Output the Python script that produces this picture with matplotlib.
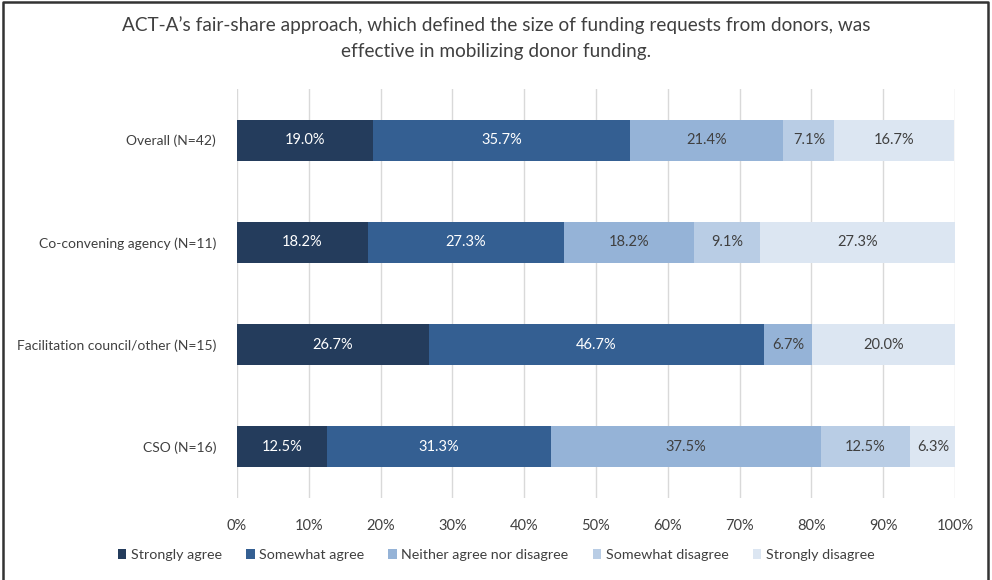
import numpy as np
import matplotlib.pyplot as plt
from matplotlib.lines import Line2D

# datos
grupos = ['Overall (N=42)', 'Co-convening agency (N=11)',
          'Facilitation council/other (N=15)', 'CSO (N=16)']
respuestas = ['Strongly agree', 'Somewhat agree', 'Neither agree nor disagree',
              'Somewhat disagree', 'Strongly disagree']
strongly_agree = [19.0, 18.2, 26.7, 12.5]
somewhat_agree = [35.7, 27.3, 46.7, 31.3]
neither = [21.4, 18.2, 6.7, 37.5]
somewhat_disagree = [7.1, 9.1, 0.0, 12.5]
strongly_disagree = [16.7, 27.3, 20.0, 6.3]

colores = ['#243c5c', '#345f92', '#95b3d7', '#b9cde5', '#dce6f2']
color_texto = ['white', 'white', '#404040', '#404040', '#404040']

plt.rcParams['font.family'] = ['Lato', 'DejaVu Sans']

fig = plt.figure(figsize=(9.92, 5.8), dpi=100)
ax = fig.add_axes([0.2389, 0.1414, 0.7238, 0.7052])

series = [strongly_agree, somewhat_agree, neither, somewhat_disagree, strongly_disagree]
y = np.arange(len(grupos))
izq = np.zeros(len(grupos))
for k, vals in enumerate(series):
    vals = np.array(vals)
    ax.barh(y, vals, left=izq, height=0.4, color=colores[k], label=respuestas[k], zorder=3)
    for i, v in enumerate(vals):
        if v > 0:
            ax.text(izq[i] + v / 2, y[i], '%.1f%%' % v, ha='center', va='center',
                    fontsize=10.5, color=color_texto[k], zorder=4)
    izq += vals

ax.set_xlim(0, 100)
ax.set_ylim(len(grupos) - 0.5, -0.5)
ax.set_xticks(np.arange(0, 101, 10))
ax.set_xticklabels(['%d%%' % t for t in range(0, 101, 10)])
ax.set_yticks(y)
ax.set_yticklabels(grupos)
ax.tick_params(axis='both', length=0, labelcolor='#404040')
ax.tick_params(axis='x', pad=15, labelsize=10.5)
ax.tick_params(axis='y', pad=15, labelsize=10)
ax.grid(axis='x', color='#d9d9d9', linewidth=1, zorder=0)
for s in ax.spines.values():
    s.set_visible(False)

fig.text(0.5, 0.972, "ACT-A\u2019s fair-share approach, which defined the size of funding requests from donors, was\neffective in mobilizing donor funding.",
         ha='center', va='top', fontsize=13.7, color='#404040', linespacing=1.65)

ax.legend(loc='center', bbox_to_anchor=(0.5, 0.043), bbox_transform=fig.transFigure,
          ncol=5, frameon=False, fontsize=10.3, handlelength=0.6, handleheight=0.6,
          handletextpad=0.3, columnspacing=1.7, labelcolor='#404040')

# marco de la imagen
fig.add_artist(Line2D([0.003, 0.003, 0.996, 0.996], [0.0, 0.996, 0.996, 0.0],
                      transform=fig.transFigure, color='#333333', linewidth=1.8))

fig.savefig('out.png', dpi=100)
